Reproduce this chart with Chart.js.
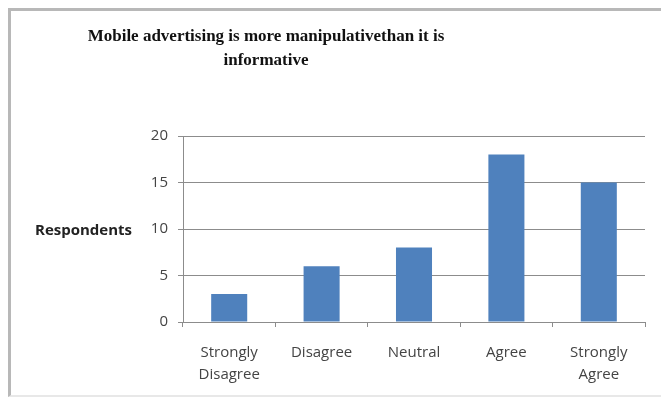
<!DOCTYPE html>
<html>
<head>
<meta charset="utf-8">
<script src="https://cdn.jsdelivr.net/npm/chart.js@4/dist/chart.umd.min.js"></script>
<style>
  html, body { margin: 0; padding: 0; background: #fff; }
  #wrap { position: relative; width: 661px; height: 400px; overflow: hidden; }
  #frame {
    position: absolute; left: 8px; top: 8px; width: 720px; height: 389px;
    border-left: 3px solid #b8b8b8; border-top: 3px solid #b8b8b8; border-bottom: 2px solid #e8e8e8;
    box-sizing: border-box;
  }
  canvas { position: absolute; left: 0; top: 0; }
</style>
</head>
<body>
<div id="wrap">
  <div id="frame"></div>
  <canvas id="chart" width="661" height="400"></canvas>
</div>
<script>
// Survey responses per answer
const categories = [["Strongly", "Disagree"], "Disagree", "Neutral", "Agree", ["Strongly", "Agree"]];
const respondents = [3, 6, 8, 18, 15];
const yTicks = [0, 5, 10, 15, 20];
const titleLines = ["Mobile advertising is more manipulativethan it is", "informative"];
const yAxisLabel = "Respondents";

// Title and horizontal axis caption, drawn in the style of an office chart
const captions = {
  id: 'captions',
  afterDraw(chart) {
    const ctx = chart.ctx;
    ctx.save();
    ctx.fillStyle = '#111';
    ctx.font = 'bold 17px "Liberation Serif", "Times New Roman", serif';
    ctx.textAlign = 'center';
    ctx.textBaseline = 'middle';
    titleLines.forEach((line, i) => ctx.fillText(line, 266, 37 + i * 24));

    const y = chart.scales.y;
    ctx.font = 'bold 15px "Open Sans", sans-serif';
    ctx.textAlign = 'left';
    ctx.fillStyle = '#222';
    ctx.fillText(yAxisLabel, 35, y.getPixelForValue(10) + 2);
    ctx.restore();
  }
};

new Chart(document.getElementById('chart'), {
  type: 'bar',
  data: {
    labels: categories,
    datasets: [{
      data: respondents,
      backgroundColor: '#4F81BD',
      borderWidth: 0,
      barPercentage: 0.39,
      categoryPercentage: 1
    }]
  },
  options: {
    responsive: false,
    animation: false,
    layout: { padding: { top: 136, right: 16, bottom: 0, left: 0 } },
    plugins: { legend: { display: false }, tooltip: { enabled: false }, title: { display: false } },
    scales: {
      x: {
        grid: { drawOnChartArea: false, drawTicks: true, tickLength: 5, color: '#8c8c8c' },
        border: { color: '#8c8c8c', width: 1 },
        ticks: {
          color: '#444',
          font: { family: '"Open Sans", sans-serif', size: 15, lineHeight: 1.5 },
          padding: 14,
          maxRotation: 0,
          autoSkip: false
        },
        afterFit(scale) { scale.height = 78; }
      },
      y: {
        min: 0,
        max: 20,
        afterBuildTicks(scale) { scale.ticks = yTicks.map(v => ({ value: v })); },
        grid: { color: '#8c8c8c', tickLength: 5 },
        border: { color: '#8c8c8c', width: 1 },
        ticks: {
          color: '#444',
          font: { family: '"Open Sans", sans-serif', size: 15 },
          padding: 10
        },
        afterFit(scale) { scale.width = 183; }
      }
    }
  },
  plugins: [captions]
});
</script>
</body>
</html>
